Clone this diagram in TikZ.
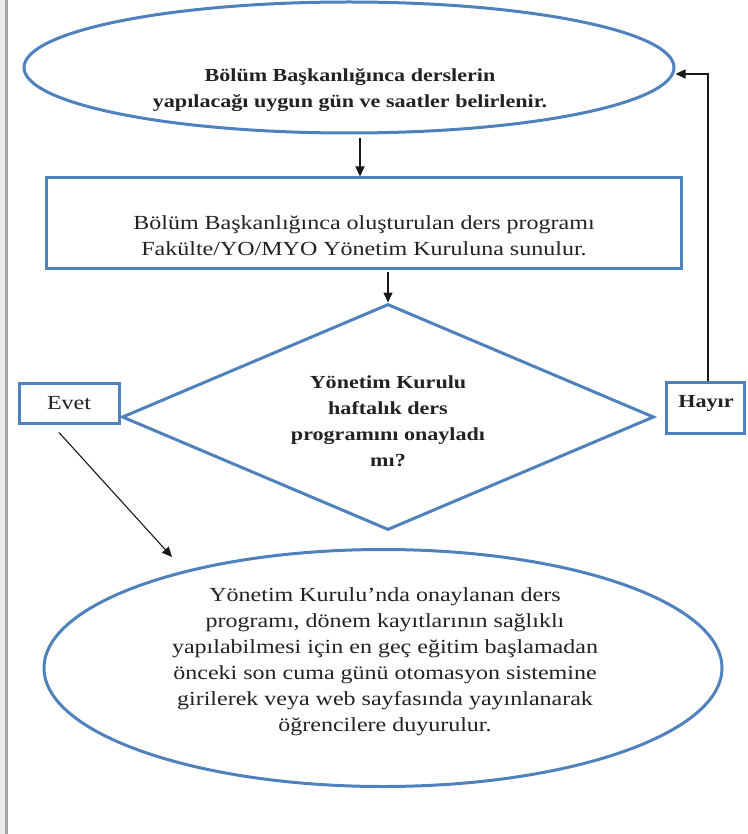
\documentclass[tikz,border=0pt]{standalone}
\usepackage{fontspec}
\setmainfont{Liberation Serif}[FakeStretch=1.2]
\usetikzlibrary{shapes.geometric,arrows.meta}
\definecolor{bl}{HTML}{4F81BD}
\definecolor{tx}{HTML}{222222}
\begin{document}
\begin{tikzpicture}[x=1pt,y=-1pt,
  shapeline/.style={draw=bl,line width=3pt,inner sep=0pt,fill=white},
  txt/.style={text=tx,font=\fontsize{20}{26}\selectfont,align=center,inner sep=0pt},
  btxt/.style={txt,font=\fontsize{18.4}{26}\selectfont\bfseries},
  conn/.style={draw=black!90,line width=1.5pt,-{Triangle[length=10pt,width=9pt]}}]
\useasboundingbox (0,0) rectangle (747,834);
\fill[gray!15] (0,0) rectangle (5,834);
\draw[gray!70,line width=2.5pt] (6.5,0) -- (6.5,834);

% top ellipse
\node[shapeline,ellipse,minimum width=650pt,minimum height=131pt] (e1) at (349,67.5) {};
\node[btxt] (t1) at (350,90) {Bölüm Başkanlığınca derslerin\\yapılacağı uygun gün ve saatler belirlenir.};

% rectangle
\node[shapeline,rectangle,minimum width=635pt,minimum height=90pt] (b1) at (363.5,223) {};
\node[txt] (t2) at (364,236) {Bölüm Başkanlığınca oluşturulan ders programı\\Fakülte/YO/MYO Yönetim Kuruluna sunulur.};

% diamond
\node[shapeline,diamond,minimum width=532pt,minimum height=226pt] (d1) at (388,417) {};
\node[btxt] (t3) at (388,421) {Yönetim Kurulu\\haftalık ders\\programını onayladı\\mı?};

% Evet / Hayir
\node[shapeline,txt,rectangle,minimum width=100pt,minimum height=40pt] (ev) at (69,403) {Evet};
\node[shapeline,rectangle,minimum width=78pt,minimum height=51pt] (hy) at (705,407.5) {};
\node[btxt] (t4) at (706,403) {Hayır};

% bottom ellipse
\node[shapeline,ellipse,minimum width=678pt,minimum height=237pt] (e2) at (383,668) {};
\node[txt] (t5) at (385,662) {Yönetim Kurulu’nda onaylanan ders\\programı, dönem kayıtlarının sağlıklı\\yapılabilmesi için en geç eğitim başlamadan\\önceki son cuma günü otomasyon sistemine\\girilerek veya web sayfasında yayınlanarak\\öğrencilere duyurulur.};

% connectors
\draw[conn] ([xshift=11pt,yshift=-4pt]e1.south) -- ([xshift=-3.5pt]b1.north);
\draw[conn] ([yshift=-2pt]b1.south -| d1.north) -- (d1.north);
\draw[conn] ([xshift=3pt]hy.north) |- ([yshift=-6.5pt]e1.east);
\coordinate (evend) at (172,557);
\draw[conn,line width=1.1pt] ([xshift=-10pt,yshift=-8pt]ev.south) -- (evend);
\end{tikzpicture}
\end{document}
